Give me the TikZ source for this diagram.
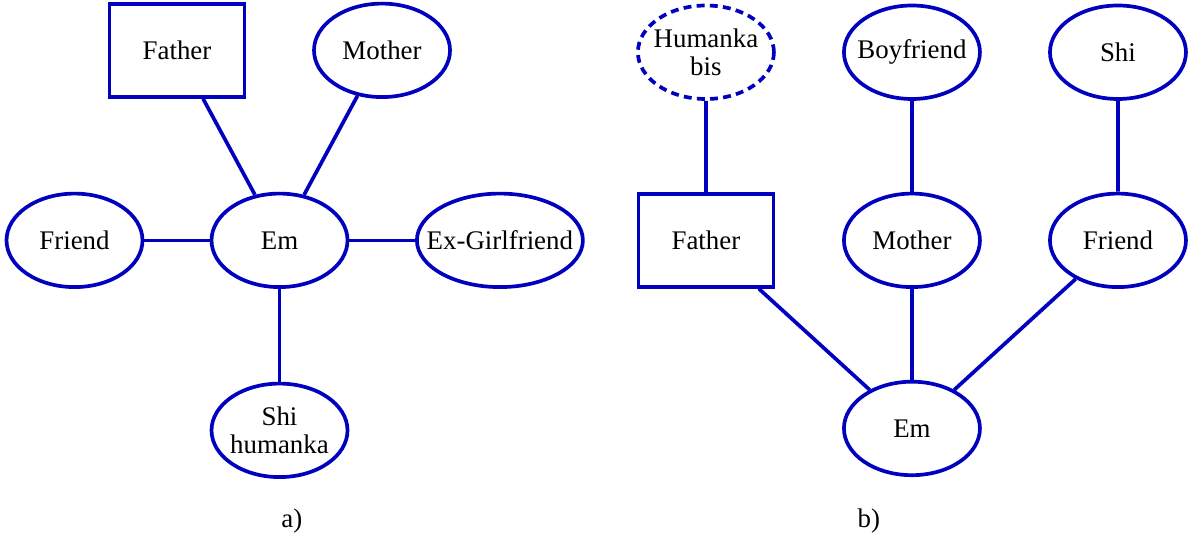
\documentclass[tikz,border=0pt]{standalone}
\usepackage{fontspec}
\setmainfont{Liberation Serif}
\usetikzlibrary{shapes.geometric}
\definecolor{lineblue}{RGB}{0,0,190}
\begin{document}
\begin{tikzpicture}[x=2.05cm,y=1.9cm,
		txt/.style={font=\fontsize{15.3}{15.9}\selectfont,align=center},
		ell/.style={txt,draw=lineblue,line width=2.1pt,ellipse,minimum width=2.72cm,minimum height=1.87cm,inner xsep=-14pt,inner ysep=0pt},
		box/.style={txt,draw=lineblue,line width=2.1pt,rectangle,minimum width=2.7cm,minimum height=1.86cm},
		link/.style={draw=lineblue,line width=2.1pt}]
		\useasboundingbox(-2.727,-3.09)rectangle(8.873,2.53);
		% a)
		\node[ell](emA)at(0,0){Em};
		\node[box](fatherA)at(-1,2){Father};
		\node[ell](motherA)at(1,2){Mother};
		\node[ell](friendA)at(-2,0){Friend};
		\node[ell,minimum width=3.32cm](exA)at(2.15,0){Ex-Girlfriend};
		\node[ell](shiA)at(0,-2){Shi\\humanka};
		\draw[link](fatherA)--(emA);
		\draw[link](motherA)--(emA);
		\draw[link](friendA)--(emA)--(exA);
		\draw[link](emA)--(shiA);
		\node[txt](capA)at(.12,-2.95){a)};
		% b)
		\node[ell,dash pattern=on 4.5pt off 3pt](bisB)at(4.16,1.98){Humanka\\bis};
		\node[ell](boyB)at(6.17,1.98){Boyfriend};
		\node[ell](shiB)at(8.18,1.98){Shi};
		\node[box](fatherB)at(4.16,0){Father};
		\node[ell](motherB)at(6.17,0){Mother};
		\node[ell](friendB)at(8.18,0){Friend};
		\node[ell](emB)at(6.17,-1.98){Em};
		\draw[link](bisB)--(fatherB)--(emB);
		\draw[link](boyB)--(motherB)--(emB);
		\draw[link](shiB)--(friendB)--(emB);
		\node[txt](capB)at(5.75,-2.95){b)};
	\end{tikzpicture}
\end{document}
